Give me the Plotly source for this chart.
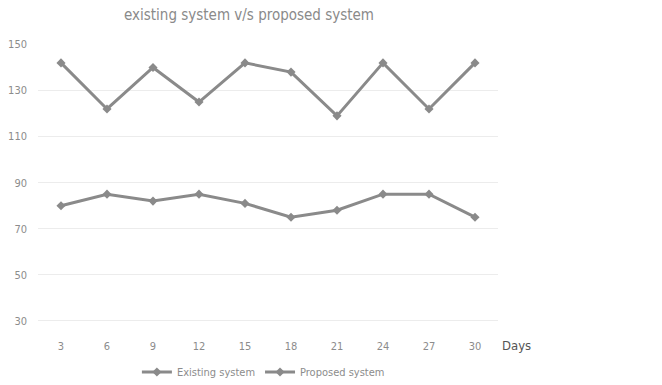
import plotly.graph_objects as go

days = ["3", "6", "9", "12", "15", "18", "21", "24", "27", "30"]
existing = [142, 122, 140, 125, 142, 138, 119, 142, 122, 142]
proposed = [80, 85, 82, 85, 81, 75, 78, 85, 85, 75]
y_ticks = [30, 50, 70, 90, 110, 130, 150]

font = "DejaVu Sans Condensed, Liberation Sans, sans-serif"
line_col = "#8a8a8a"
txt_col = "#8c8c8c"

W, H = 662, 385
L, R, T, B = 38, 164, 44, 63
plot_h = H - T - B

def py(pix):
    return (H - B - pix) / plot_h

fig = go.Figure()
fig.add_trace(go.Scatter(x=days, y=existing, name="Existing system", mode="lines+markers",
                         line=dict(color=line_col, width=3),
                         marker=dict(symbol="diamond", size=7, color=line_col)))
fig.add_trace(go.Scatter(x=days, y=proposed, name="Proposed system", mode="lines+markers",
                         line=dict(color=line_col, width=3),
                         marker=dict(symbol="diamond", size=7, color=line_col)))

fig.update_layout(
    width=W, height=H,
    margin=dict(l=L, r=R, t=T, b=B, autoexpand=False),
    paper_bgcolor="white", plot_bgcolor="white",
    font=dict(family=font, color=txt_col, size=11),
    title=dict(text="existing system v/s proposed system", x=249/W, xanchor="center",
               y=1 - 15/H, yanchor="middle", font=dict(size=15, color="#8a8a8a", family=font)),
    showlegend=True,
    legend=dict(orientation="h", x=0.49, xanchor="center", y=py(372), yanchor="middle",
                font=dict(size=11, color=txt_col), itemwidth=30),
    xaxis=dict(type="category", range=[-0.5, 9.5], showgrid=False, showline=False,
               zeroline=False, ticks="", ticklabelstandoff=16, tickfont=dict(size=11)),
    yaxis=dict(range=[29.5, 150.2], tickvals=y_ticks, showgrid=True, gridcolor="#ececec",
               gridwidth=1, zeroline=False, showline=False, ticks="", tickfont=dict(size=11),
               ticklabelstandoff=10),
    annotations=[dict(text="Days", x=(500 - L) / (W - L - R), xref="paper", xanchor="left",
                      y=py(345), yref="paper", yanchor="middle", showarrow=False,
                      font=dict(size=13, color="#555555", family=font))],
)
fig.write_html("out.html")
